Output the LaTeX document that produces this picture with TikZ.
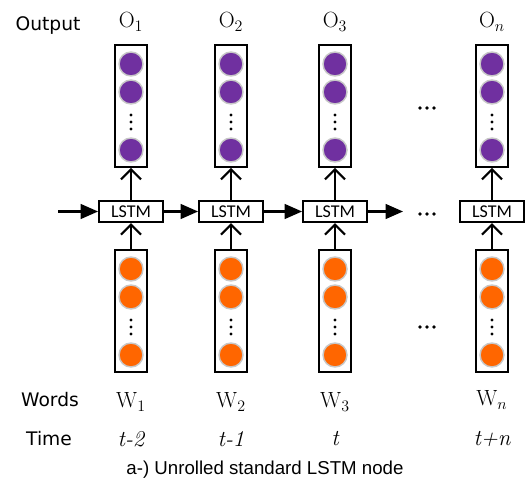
\documentclass[tikz,border=0pt]{standalone}
\usepackage{fontspec}
\usetikzlibrary{arrows.meta}
\newfontfamily\labelfont{DejaVu Sans}
\newfontfamily\cellfont{Carlito}
\newfontfamily\capfont{Liberation Sans}
\definecolor{outpurple}{HTML}{7030A0}
\definecolor{inorange}{HTML}{FF6600}
\definecolor{rimgrey}{HTML}{C8C8C8}
\tikzset{
  vecbox/.style={draw, line width=1.4pt, minimum width=24pt, minimum height=91.5pt, inner sep=0pt, anchor=north},
  cellbox/.style={draw, line width=1.4pt, minimum width=48pt, minimum height=16pt, inner sep=0pt, font=\cellfont\fontsize{13.5}{15}\selectfont},
  flow/.style={line width=1.6pt, -{Triangle[length=13pt,width=11pt]}},
  up/.style={line width=1.6pt, -{Straight Barb[length=7.5pt,width=15pt,line width=1.6pt]}},
  sidelabel/.style={font=\labelfont\fontsize{14}{16}\selectfont},
  steplabel/.style={font=\fontsize{16.5}{19}\selectfont},
  timelabel/.style={font=\fontsize{17}{19}\selectfont\itshape},
}
% one unit = one pixel of the 529 x 485 canvas, y pointing down
\begin{document}
\begin{tikzpicture}[x=0.75pt, y=-0.75pt]
\useasboundingbox (0,0) rectangle (529,485);

% column of neurons inside a vector box
\newcommand\neurons[3]{% x, top y, colour
  \foreach \dy in {20,48,106}
    \filldraw[fill=#3, draw=rimgrey, line width=1.1pt] (#1,#2+\dy) circle (12);
  \foreach \dy in {71,78,85}
    \fill (#1,#2+\dy) circle (1.7);
}

\foreach \i/\x in {1/131,2/231,3/335,4/492} {
  \node[vecbox] (o\i) at (\x,44) {};
  \neurons{\x}{44}{outpurple}
  \node[vecbox] (w\i) at (\x,249) {};
  \neurons{\x}{249}{inorange}
  \node[cellbox] (l\i) at (\x,211.5) {LSTM};
  \draw[up] (l\i) -- (o\i);
  \draw[up] (w\i) -- (l\i);
}

% recurrent connections
\coordinate (in) at (58,211.5);
\coordinate (gap) at (403,211.5);
\draw[flow] (in) -- (l1);
\draw[flow] (l1) -- (l2);
\draw[flow] (l2) -- (l3);
\draw[flow] (l3) -- (gap);

% ellipses for the omitted steps
\foreach \y in {108,214,327}
  \foreach \dx in {-7,0,7}
    \fill (427+\dx,\y) circle (1.8);

% step labels
\node[steplabel] (O1) at (131,22) {$\mathrm{O}_1$};
\node[steplabel] (O2) at (231,22) {$\mathrm{O}_2$};
\node[steplabel] (O3) at (335,22) {$\mathrm{O}_3$};
\node[steplabel] (On) at (492,22) {$\mathrm{O}_n$};
\node[steplabel] (W1) at (131,402) {$\mathrm{W}_1$};
\node[steplabel] (W2) at (231,402) {$\mathrm{W}_2$};
\node[steplabel] (W3) at (335,402) {$\mathrm{W}_3$};
\node[steplabel] (Wn) at (492,400) {$\mathrm{W}_n$};
\node[timelabel] (T1) at (131,439) {t-2};
\node[timelabel] (T2) at (231,439) {t-1};
\node[timelabel] (T3) at (335,439) {t};
\node[timelabel] (Tn) at (492,439) {t+n};

\node[sidelabel] (outlab) at (48,26) {Output};
\node[sidelabel] (wordlab) at (50,400) {Words};
\node[sidelabel] (timelab) at (49,439) {Time};

\node[font=\capfont\fontsize{14}{16}\selectfont] (cap) at (265,470) {a-) Unrolled standard LSTM node};
\end{tikzpicture}
\end{document}
